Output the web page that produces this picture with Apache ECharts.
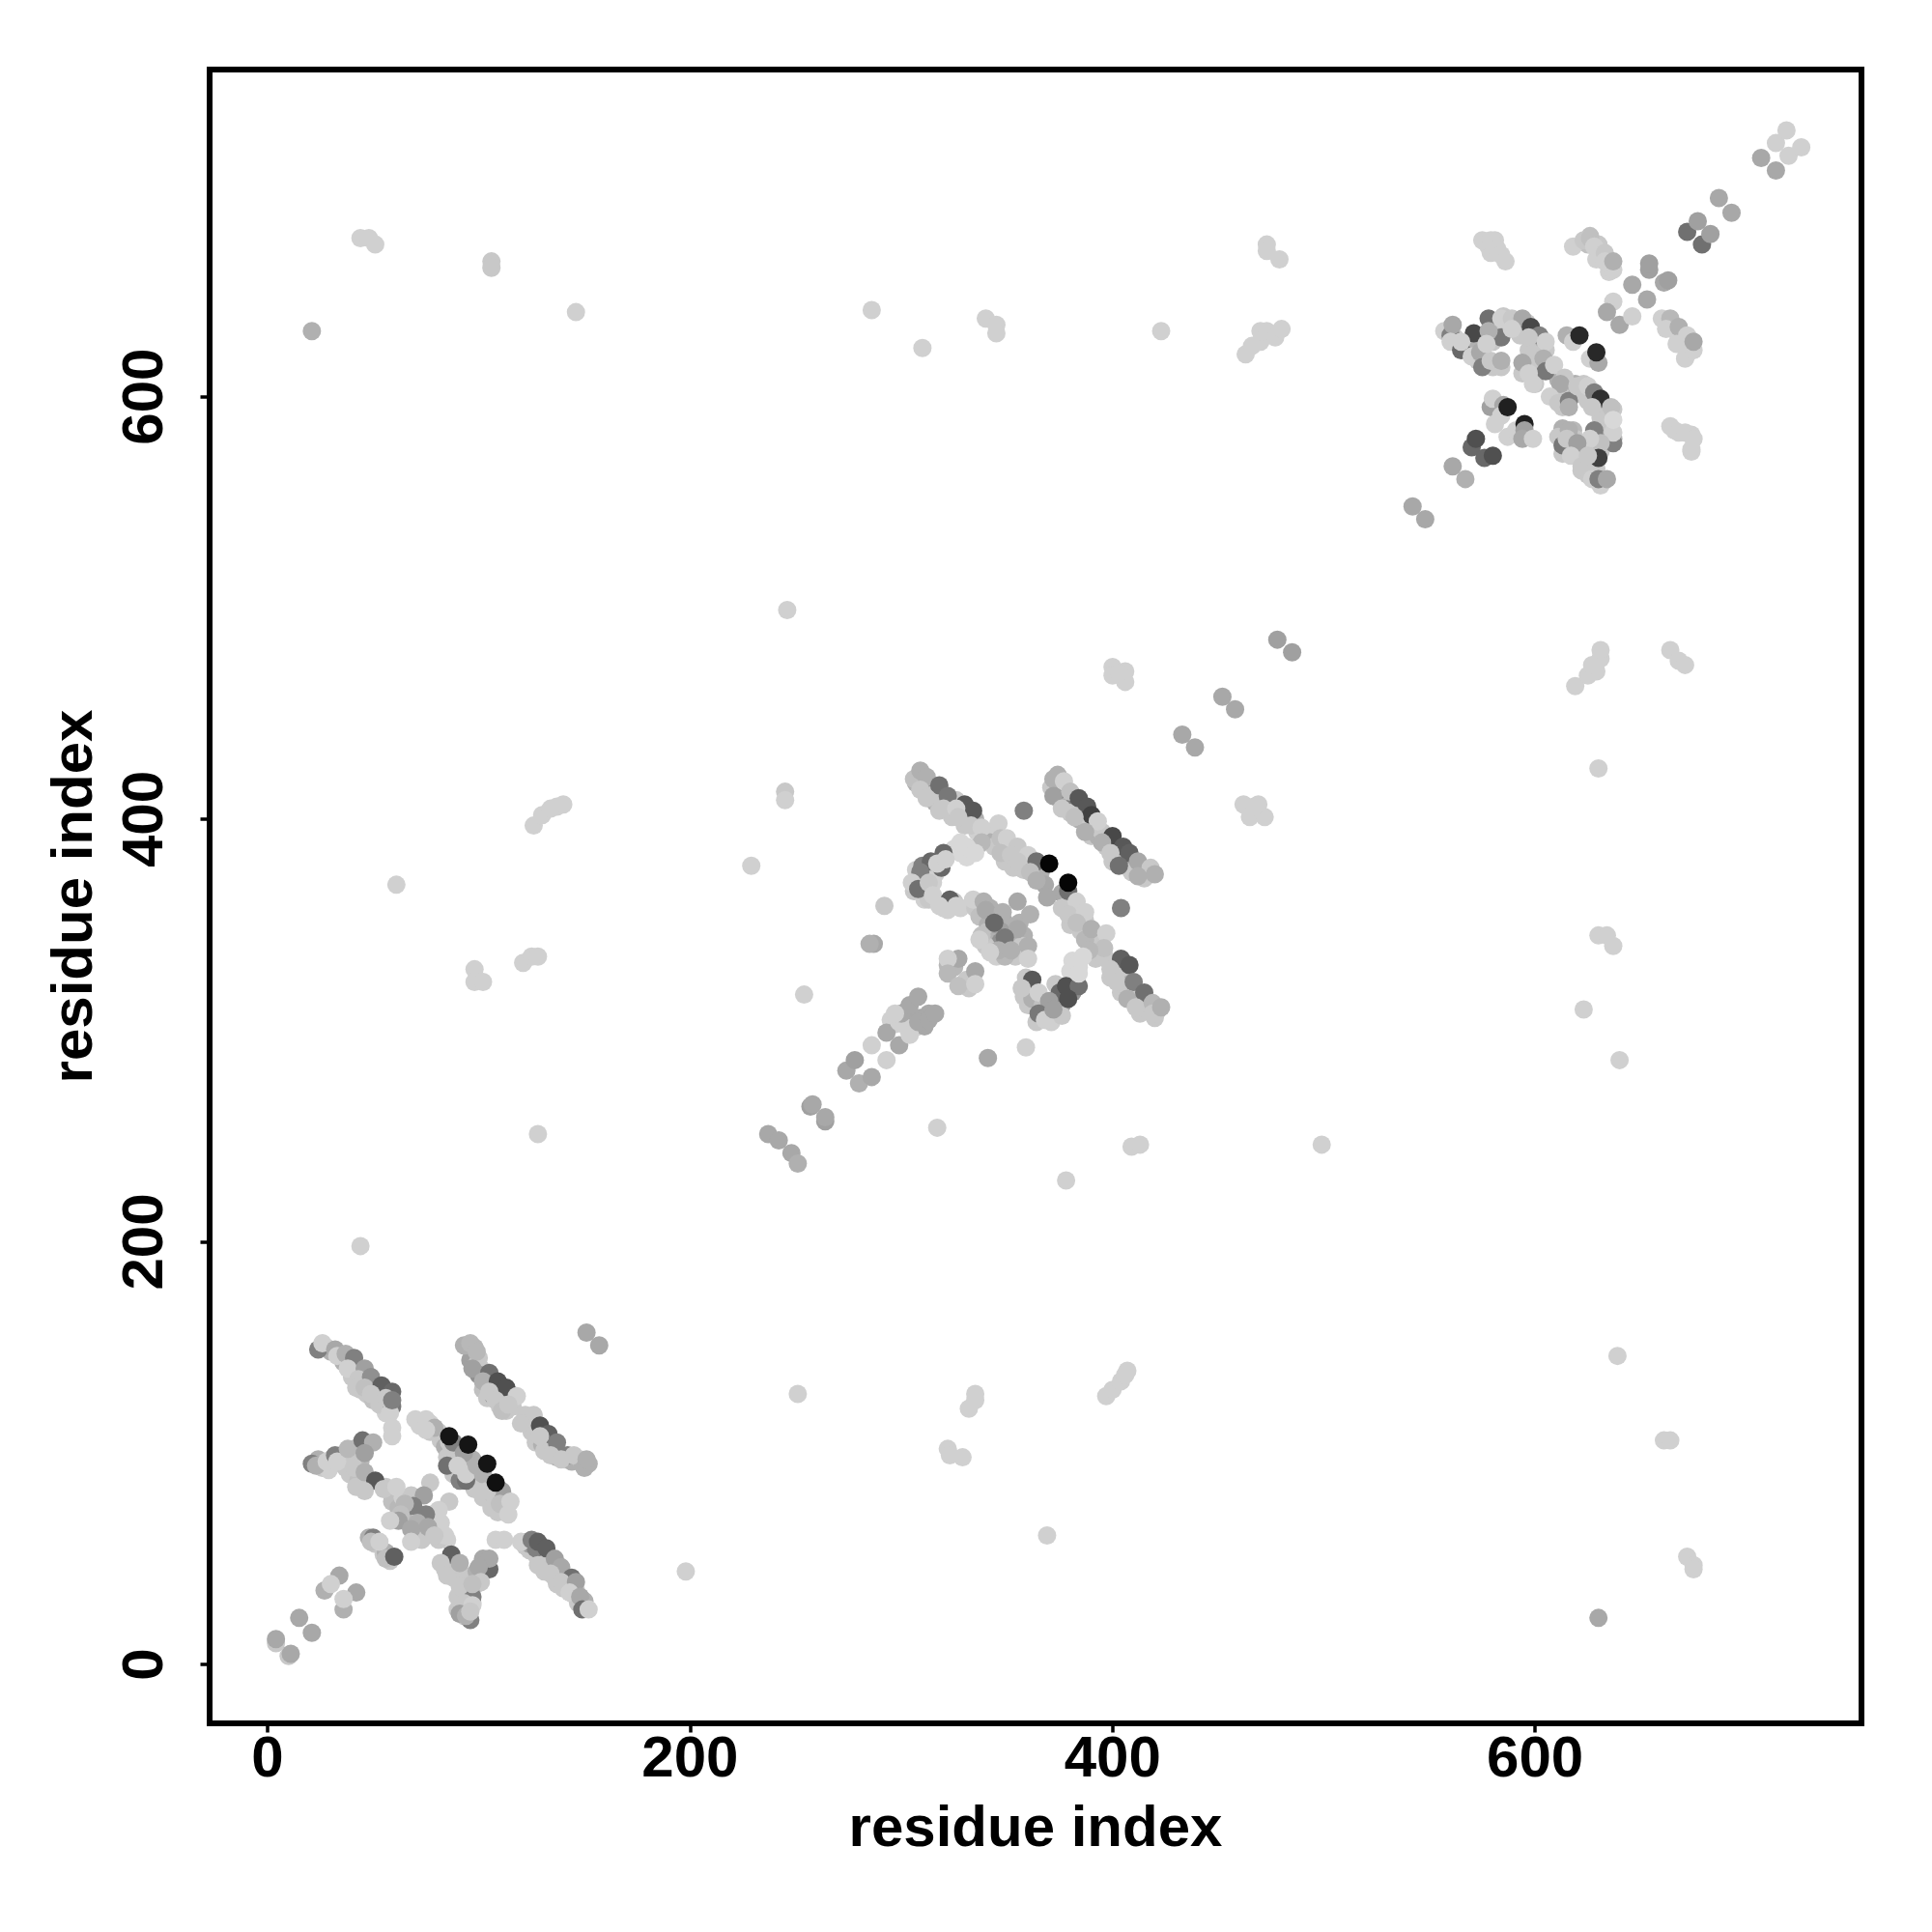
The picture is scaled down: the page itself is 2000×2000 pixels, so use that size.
<!DOCTYPE html>
<html><head><meta charset="utf-8">
<style>html,body{margin:0;padding:0;background:#fff}#c{width:2000px;height:2000px}</style>
<script src="https://cdn.jsdelivr.net/npm/echarts@6/dist/echarts.min.js"></script>
</head><body><div id="c"></div>
<script>
const xTicks=[0,200,400,600], yTicks=[0,200,400,600];
const axisName='residue index';
// each entry: [residue i, residue j, grey level of the contact]
const sparse=[[21,631,0xb0],[44,675,0xd0],[48,675,0xd0],[51,672,0xd0],[106,664,0xc8],[106,661,0xc8],[146,640,0xd0],
[126,397,0xd0],[130,402,0xd0],[134,405,0xd0],[137,406,0xd0],[140,407,0xd0],[61,369,0xd0],[98,329,0xd0],[98,323,0xd0],[102,323,0xd0],
[121,332,0xd0],[125,335,0xd0],[128,335,0xd0],[128,251,0xd0],[44,198,0xd0],[151,157,0xa8],[157,151,0xa8],[198,44,0xd0],[251,128,0xd0],[369,61,0xd0],
[246,499,0xd0],[499,246,0xd0],[335,128,0xd0],[335,125,0xd0],[332,121,0xd0],[322,102,0xd0],[323,99,0xd0],[329,98,0xd0],
[397,127,0xd0],[400,130,0xd0],[404,134,0xd0],[406,137,0xd0],[407,139,0xd0],[478,485,0xa0],[485,479,0xa0],[452,458,0xa8],[458,452,0xa8],[433,440,0xa8],[439,434,0xa8],
[400,472,0xd0],[400,468,0xd0],[406,470,0xd0],[406,465,0xd0],[403,469,0xd0],[462,407,0xd0],[469,407,0xd0],[465,401,0xd0],[472,401,0xd0],[467,406,0xd0],
[630,424,0xd0],[630,345,0xd0],[634,345,0xd0],[637,340,0xd0],[623,310,0xd0],[640,286,0xd0],[639,146,0xd0],[661,106,0xd0],[664,106,0xd0],[672,51,0xd0],[675,47,0xd0],[675,45,0xd0],[630,22,0xa8],
[619,463,0xd0],[625,468,0xd0],[629,470,0xd0],[627,473,0xd0],[631,476,0xd0],[631,480,0xd0],[664,480,0xd0],[668,475,0xd0],[671,473,0xd0],
[286,641,0xd0],[310,623,0xd0],[340,637,0xd0],[345,634,0xd0],[345,630,0xd0],[423,631,0xd0],[463,620,0xd0],[466,624,0xd0],[470,626,0xd0],[470,631,0xd0],[473,631,0xd0],[477,628,0xd0],[480,632,0xd0],
[473,672,0xd0],[473,669,0xd0],[479,665,0xd0]];
const underA=[[28,150,0xc8],[30,148,0xb0],[35,145,0xc8],[36,143,0xb0],[40,142,0xc8],[41,139,0xa0],[44,138,0xc8],[40,136,0xc8],[45,134,0xb0],[48,133,0xc8],[44,130,0xc8],[47,128,0xc8],[51,130,0xb0],[52,126,0xc8],[55,128,0xc8],[50,125,0xc0],[55,122,0xc8],[57,120,0xc8],[58,124,0xc8],[56,119,0xd0],
[95,150,0xb8],[98,150,0xb8],[97,146,0xb0],[100,145,0xc8],[96,144,0xa0],[99,142,0xc8],[101,140,0xc8],[100,137,0x90],[103,136,0xc8],[102,130,0xc0],[106,132,0xc8],[108,130,0xb0],[104,126,0xc8],[107,127,0x90],[110,127,0xc8],[112,125,0xc8],[115,128,0xb0],[116,125,0xc8],[110,122,0xc8],[113,120,0xc8],[116,122,0xc8],[122,115,0xc8],[124,113,0x80],[122,118,0xc8],[125,110,0xc8],[128,110,0xc8],[127,105,0xc8],[130,104,0xb0],[132,106,0xc8],[133,102,0xc8],[136,101,0xb0],[131,101,0xc8],[137,98,0xb0],[141,97,0xc8],[144,96,0xb0],[148,97,0xc8],[149,95,0xb0],[152,95,0xb0],
[72,115,0xd0],[77,114,0xd0],[72,113,0xd0],[77,110,0xc8],[81,110,0xc8],[82,106,0xc8],[84,103,0xb0],[86,105,0xc8],[87,100,0xc8],[90,102,0xb0],[85,98,0xc8],[89,98,0xc8],[92,97,0xc8],[92,92,0xc8],[96,92,0xc8],[97,97,0xb0],[88,90,0xc8],[91,87,0x80],[97,88,0xc8],[100,86,0xb0],[103,87,0xc8],[98,83,0xc8],[102,79,0xc8],[105,84,0xc8],[107,80,0xc0],[108,77,0xc8],[112,79,0xc8],[112,74,0xd0],[106,74,0xc8],[109,72,0xc8],
[24,97,0xb0],[26,93,0xc8],[30,94,0xd0],[30,97,0xd0],[35,95,0xc8],[35,99,0xc8],[37,93,0xc8],[40,97,0xc8],[42,100,0xb8],[43,103,0xb8],[39,100,0xc8],[43,96,0xc8],[29,92,0xd0],[38,97,0xc8],[39,90,0xc8],[43,87,0xc0],[44,96,0xb8],[46,84,0xc8],[41,99,0xc8],[42,84,0xc8],
[56,84,0xc8],[59,77,0xc0],[62,74,0xb8],[64,79,0xd0],[68,80,0xc8],[65,68,0xb8],[70,62,0xa8],[73,68,0xb0],[78,71,0xc8],[82,67,0xd0],[85,59,0xd0],[81,59,0xc8],[73,59,0xc8],
[84,45,0xc8],[88,41,0xc8],[90,32,0xc8],[93,42,0xc8],[99,44,0xb0],[102,50,0xa8],[97,29,0xc8],[93,23,0xc8],[90,26,0xc8],[96,35,0xc8],[99,38,0xc8],
[48,60,0xb0],[51,57,0xc8],[55,52,0xc8],[58,49,0xc8],[56,53,0xb0],
[122,56,0xc8],[124,54,0xc8],[127,52,0xc8],[124,57,0xa0],[130,51,0xc8],[127,55,0x80],[130,47,0xc8],[133,47,0xc8],[131,44,0xc8],[136,46,0xc8],[136,41,0xc8],[137,38,0xc8],[141,42,0xc8],[140,36,0xc8],[145,37,0xc8],[143,38,0xa0],[145,33,0xc8],[147,29,0xc8],[150,30,0xb0],[146,35,0xc8]];
const domainA=[[4,10,0xc8],[4,12,0xa8],[10,4,0xc8],[11,5,0xa8],[15,22,0xa8],[21,15,0xa8],[27,35,0xb0],[34,42,0xa8],[36,26,0xb0],[42,34,0xa8],[30,38,0xd0],[36,31,0xd0],
[24,149,0x80],[26,152,0xd0],[32,149,0xa8],[33,146,0xd0],[37,147,0xb0],[41,145,0x80],[38,140,0xd0],[46,140,0xa0],[43,135,0xc8],[42,131,0xc8],[49,136,0x90],[46,131,0xc0],[54,132,0x60],[49,128,0xc8],[53,123,0xc8],[59,122,0x78],[59,129,0x68],[58,119,0xd0],[56,126,0xc8],[59,125,0x80],
[93,151,0xb0],[96,152,0xb8],[99,148,0xb8],[97,140,0xa0],[105,138,0x70],[102,134,0xb0],[109,134,0x50],[113,131,0x50],[105,129,0xc8],[108,125,0xc8],[118,127,0xd0],[111,120,0xc0],[114,123,0xc8],[126,118,0xc8],[120,114,0xc8],[129,113,0x50],[133,109,0x60],[137,105,0x80],[129,108,0xc8],[134,99,0xc8],[142,99,0x80],[145,99,0xc8],[139,97,0xc8],[150,93,0xb0],[151,97,0xb0],
[70,116,0xd0],[75,116,0xd0],[79,112,0xb0],[75,111,0xd0],[88,105,0x80],[93,100,0xa0],[85,94,0x70],[90,94,0xd0],[94,87,0x70],[94,90,0xd0],[99,94,0xb0],[102,90,0xb0],[111,82,0xa0],[104,82,0xc8],[110,76,0xc0],[115,77,0xd0],[114,71,0xd0],[86,108,0x15],[95,104,0x15],[104,95,0x15],[108,86,0x10],
[21,95,0x80],[23,94,0xb0],[28,96,0xd0],[32,99,0x80],[33,96,0xd0],[38,102,0xb8],[45,106,0x70],[50,105,0xb0],[46,100,0xa0],[41,93,0xc8],[46,91,0xb0],[51,87,0x58],[46,82,0xc8],[55,83,0xc8],[61,84,0xd0],
[59,112,0xd0],[59,108,0xd0],[77,86,0xc8],[74,80,0xa0],[69,75,0x80],[65,76,0xb8],[63,71,0xc0],[62,68,0xa0],[58,68,0xd0],[86,77,0xc8],[81,73,0xd0],[75,71,0x80],[71,67,0xb0],[68,64,0xa8],[68,58,0xd0],[76,65,0xa8],[84,61,0xd0],[79,61,0xc8],
[50,60,0x80],[49,58,0xc0],[53,58,0xd0],[56,50,0xc0],[60,51,0x60],[108,59,0xd0],[112,59,0xd0],
[120,58,0xd0],[125,59,0x80],[128,58,0x60],[132,55,0x60],[128,47,0xc8],[136,50,0xa0],[139,46,0xa8],[134,43,0xc8],[144,41,0x70],[139,39,0xc8],[146,39,0xa0],[143,34,0xd0],[148,32,0xa8],[149,26,0x70],[152,26,0xd0],
[87,52,0x60],[82,48,0xc8],[85,42,0xc8],[91,48,0xb0],[105,45,0x68],[105,50,0xa8],[100,46,0xa8],[101,39,0xc8],[97,32,0x80],[91,37,0xc8],[97,38,0xc0],[93,29,0xc8],[97,28,0xd0],[91,24,0xa0],[96,21,0x80],[94,23,0xb0],[96,25,0xc8]];
const underB=[[307,417,0xb0],[310,418,0xc8],[313,416,0xb0],[311,413,0xc8],[314,412,0x90],[316,412,0xc8],[316,408,0xb0],[319,410,0xc8],[322,407,0xc8],[318,404,0xc8],[323,404,0xb0],[326,409,0xc8],[329,402,0x90],[331,401,0xc8],[324,401,0xc8],[330,397,0xc8],[335,400,0xb0],[336,394,0xd0],
[342,394,0xd0],[342,389,0xb0],[344,387,0xc8],[350,386,0xc8],[349,380,0xc8],[354,384,0xb8],[358,380,0xc8],[353,377,0xc8],[358,376,0xc8],[362,378,0x90],[366,375,0xb0],[368,369,0xa8],[376,365,0xa8],[380,362,0xc8],[382,357,0xb0],[376,358,0xc8],[380,350,0xc8],[385,347,0xc8],[387,352,0xc8],[392,342,0xc8],[387,343,0xb8],[392,334,0xc8],[394,337,0xc8],
[374,415,0xc8],[371,415,0xc8],[376,412,0xa0],[375,409,0xc8],[379,409,0x80],[378,406,0xb0],[382,407,0x80],[385,405,0xb0],[380,403,0xc8],[384,400,0xb0],[386,401,0xc8],[389,398,0xc8],[392,395,0xc8],[390,392,0xc8],[393,392,0xb0],[395,394,0xc8],[397,387,0xc8],[401,387,0x90],[403,383,0xc8],[400,380,0xc8],[406,379,0xc8],[405,382,0xb0],[409,379,0xb0],[409,375,0xc8],[413,377,0xc8],[416,375,0xc8],[415,372,0xc8],[418,374,0xc8],
[397,334,0xc8],[400,332,0xc8],[399,325,0xc8],[403,328,0xb0],[405,328,0xc8],[405,320,0xc8],[408,322,0xb0],[404,318,0xc8],[409,317,0xc8],[411,315,0xb0],[413,316,0xc8],[414,313,0xc8],[416,311,0xb0],[413,308,0xc8],[417,309,0xc8],[421,309,0xc8],[420,306,0xc8],
[307,376,0xd0],[309,371,0xb0],[310,378,0x80],[306,366,0xc8],[310,365,0xc8],[311,362,0xd0],[315,370,0xd0],[316,374,0xd0],[313,362,0xc8],[320,358,0xd0],[322,357,0xd0],[325,361,0xc8],[328,384,0xd8],[325,386,0xd8],[331,382,0xd8],[328,389,0xd8],[337,388,0xd8],[328,358,0xd0],
[335,358,0xc8],[337,354,0xc0],[342,358,0xb0],[345,354,0xb0],[341,350,0xb0],[341,347,0xc0],[349,351,0xa8],[352,349,0xb0],[347,347,0xa0],[343,342,0xb0],[347,342,0x90],[351,342,0xb0],[355,344,0xb0],[354,335,0xc8],[358,345,0xb0],[357,340,0xc8],[340,340,0xc8],[345,335,0xd0],[349,335,0xb8],[356,351,0xb0],
[359,325,0xc8],[361,318,0xc8],[358,316,0xc8],[360,312,0xc8],[362,315,0xb0],[367,312,0xc0],[364,304,0xc8],[368,309,0xb0],[371,304,0xd0],[372,314,0x90],[376,312,0xa0],[376,307,0xc8],[380,320,0xb0],[381,318,0x90],[373,322,0xc8],[384,330,0xd8],[381,333,0xd8],[380,328,0xd8],
[295,305,0xd0],[297,303,0xd0],[302,309,0xa8],[305,307,0xa8],[303,301,0xd0],[306,301,0xd0],[309,306,0xa8],[311,302,0xa8],[313,308,0xa8],[322,331,0xb8],[325,330,0xb8],[329,322,0xc8],[331,324,0xc8],[332,320,0xc8]];
const domainB=[[245,413,0xc8],[245,409,0xd0],[229,378,0xd0],[292,359,0xc8],[287,341,0xa8],[285,341,0xb0],[254,317,0xd0],
[237,251,0xa8],[242,248,0xa8],[248,242,0xa8],[251,237,0xb0],[257,264,0xa0],[258,265,0xa8],[264,257,0xa0],[264,259,0xa8],[274,281,0xa8],[278,286,0xa0],[280,275,0xb0],[286,278,0xa8],
[293,286,0xd0],[286,293,0xd0],[293,299,0xa8],[299,293,0xa8],[299,304,0xd0],[304,298,0xd0],[300,308,0xa8],[304,312,0xa8],[308,316,0xa8],[297,308,0xd0],[308,304,0xa8],[313,305,0xa8],[316,308,0xa8],
[341,287,0xa8],[359,292,0xd0],[317,254,0xd0],[409,245,0xd0],[413,246,0xd0],[378,229,0xd0],[404,358,0x80],[358,404,0x80],
[306,419,0xc0],[309,423,0xb0],[312,420,0xb0],[309,414,0xc8],[318,416,0x70],[322,411,0x78],[312,410,0xc8],[320,405,0xc8],[330,407,0x58],[334,404,0x58],[326,405,0xd0],[327,401,0xc8],[333,397,0xc8],
[338,396,0xd0],[346,398,0xd0],[338,389,0xb8],[347,391,0xc0],[350,391,0xd0],[355,387,0xc8],[347,384,0xc0],[352,383,0xc8],[360,383,0xd0],[355,380,0xc8],[364,380,0x70],[361,375,0xc0],[364,371,0xb0],[379,366,0x70],[369,363,0xa8],[383,361,0xd0],[379,355,0xc8],[387,356,0xd0],[383,351,0xc0],[390,348,0xb0],[397,346,0xd0],[396,339,0xc0],[389,338,0xb8],[370,379,0x05],[379,370,0x05],
[372,419,0xb0],[374,421,0xb0],[377,418,0xd0],[372,411,0xa0],[380,413,0xc0],[384,410,0x58],[376,405,0xc8],[388,406,0x58],[390,402,0x40],[382,401,0xc0],[393,399,0xd0],[387,394,0xb0],[400,392,0x48],[395,389,0xb0],[405,387,0x58],[408,384,0x60],[399,384,0xc8],[403,378,0x70],[412,380,0xa8],[418,377,0xc8],[412,373,0xb0],[420,374,0xb0],
[404,334,0x60],[408,331,0x58],[399,329,0xc8],[402,323,0xc8],[410,323,0x80],[407,315,0xb0],[415,318,0x70],[411,311,0xc8],[419,313,0xb8],[419,308,0xc8],[423,311,0xb0],
[320,384,0x68],[314,380,0x68],[319,377,0x68],[309,375,0x80],[317,379,0xd0],[321,381,0xd0],[305,370,0xd0],[308,367,0x70],[313,370,0xc8],[315,364,0xd0],[323,362,0x60],[318,359,0xd0],[326,359,0xd0],[331,387,0xd8],[335,384,0xd8],
[334,362,0xd0],[339,361,0xb0],[340,357,0xa8],[348,356,0xb0],[355,361,0xa8],[361,355,0xb0],[344,351,0x68],[338,345,0xc0],[337,343,0xd0],[355,348,0xa8],[349,344,0x78],[346,338,0xb0],[342,337,0xd0],[352,338,0xb0],[360,340,0xb0],[360,334,0xd0],
[362,324,0x58],[357,320,0xc8],[365,318,0xd0],[375,318,0x68],[378,321,0x50],[384,321,0x70],[379,315,0x50],[370,314,0xa0],[365,308,0x78],[368,305,0xd0],[372,310,0xa0],[384,332,0xd8],[386,335,0xd8],[384,327,0xd8],
[327,334,0xa8],[322,334,0xd0],[322,327,0xb8],[335,328,0xa8],[327,321,0xc0],[335,322,0xd0]];
const underC=[[562,628,0xc8],[567,623,0xc8],[570,626,0xc8],[573,623,0xb0],[573,617,0xc8],[576,617,0xc8],[580,614,0xc8],[584,614,0xc8],[577,628,0xc8],[580,634,0xc8],[580,626,0xc8],[586,634,0xc8],[585,638,0xc8],[592,635,0xb0],[596,635,0xc8],[593,629,0xc8],[599,626,0xc8],[602,623,0xb0],[597,622,0xc8],[605,622,0xc8],[599,616,0xc8],[604,614,0xc8],[608,612,0xb0],[594,611,0xc8],[599,609,0xc8],[600,606,0xc8],
[611,608,0xb0],[615,605,0xc8],[619,606,0xb0],[623,606,0xc8],[610,600,0xc8],[614,598,0xc8],[613,595,0xc8],[622,601,0xc8],[625,598,0xc8],[629,595,0xc8],[631,590,0xc8],[637,594,0xc8],[632,586,0xc8],[637,580,0xb0],[632,580,0xc8],[629,580,0xa0],[626,575,0xc8],[631,574,0xc8],[613,585,0xb0],[618,584,0xb8],[611,581,0xc8],[619,580,0xc8],[613,573,0xc8],[620,572,0xb0],[623,578,0xc8],[622,565,0xc8],[625,563,0xc8],[626,566,0xc8],[629,566,0xc8],
[578,671,0xd0],[581,674,0xd0],[579,668,0xd0],[629,665,0xd0],[630,672,0xc8],[625,672,0xc0],[635,659,0xd0],[626,676,0xc0],[665,632,0xd0],[668,627,0xd0],[671,623,0xd0],[672,620,0xd0],[666,584,0xd0],[674,574,0xd0],[674,582,0xd0]];
const domainC=[[542,548,0xa8],[548,542,0xa8],[561,567,0xa8],[567,561,0xb0],[570,576,0x68],[572,580,0x50],[576,571,0x68],[580,572,0x50],
[579,595,0xa0],[580,599,0xd0],[585,596,0xa8],[584,591,0xd0],[581,587,0xd0],[587,595,0x20],[587,581,0xd0],[591,584,0xd0],[595,587,0x20],[595,584,0xa0],[594,580,0xa8],[599,580,0xd0],
[615,629,0xb0],[618,626,0xd0],[621,629,0x28],[626,618,0xd0],[630,616,0xa8],[629,621,0x28],
[557,631,0xd0],[560,629,0x80],[561,634,0xa8],[560,626,0xd0],[571,630,0x48],[565,622,0x68],[565,626,0xd0],[570,619,0xd0],[574,621,0xa8],[575,614,0x80],[579,617,0xc8],[584,617,0xb0],[578,637,0x70],[584,628,0x78],[578,631,0xb0],[577,625,0xd0],[584,637,0xd0],[589,637,0xc8],[594,637,0xa8],[598,633,0x48],[589,632,0xd0],[602,629,0x80],[597,628,0xc8],[605,626,0xd0],[599,620,0xc8],[604,618,0xb0],[605,612,0x78],[609,615,0xd0],[594,616,0xa8],[597,611,0xd0],[599,606,0xd0],
[614,609,0xc8],[612,606,0xa8],[607,600,0xd0],[611,597,0xc8],[616,598,0x80],[616,595,0xb0],[620,605,0xc8],[625,605,0xd0],[628,602,0x80],[631,599,0x30],[627,595,0xc8],[636,595,0xc0],[637,578,0x80],[637,583,0xd0],[637,589,0xd8],[628,584,0x80],[631,578,0xc0],[630,571,0x40],[626,580,0xd0],[613,577,0x78],[616,584,0xb0],[615,580,0xc8],[620,578,0xa0],[617,572,0xd0],[622,567,0xc8],[625,572,0xc8],[627,561,0xd0],[631,558,0xd0],[630,561,0x80],[634,561,0xa8],
[575,674,0xd0],[579,674,0xd0],[582,670,0xd0],[584,667,0xd0],[586,664,0xd0],[618,671,0xd0],[623,674,0xc8],[626,675,0xc0],[628,671,0xd0],[633,668,0xc8],[637,660,0xd0],[633,664,0xd0],[637,664,0xb0],
[654,660,0xa0],[654,663,0xa0],[661,654,0xa8],[663,655,0xa0],[646,653,0xa8],[653,646,0xa8],[637,645,0xd0],[634,640,0xa8],[640,634,0xa8],[646,638,0xd0],
[660,637,0xd0],[664,637,0xb8],[662,632,0xd0],[668,633,0xb0],[667,625,0xd0],[672,629,0xd0],[671,618,0xd0],[675,622,0xd0],[675,626,0xa8],
[664,586,0xd0],[668,583,0xd0],[671,583,0xd0],[675,580,0xd0],[674,575,0xd0],
[672,678,0x70],[677,683,0xa0],[679,672,0x70],[683,677,0xa0],[687,694,0xa8],[693,687,0xa8],[707,713,0xa8],[714,707,0xa8],[714,720,0xd0],[719,726,0xd0],[720,714,0xd0],[726,718,0xd0]];
const groups=[sparse,underA,domainA,underB,domainB,underC,domainC];

const labelFont={fontFamily:'Liberation Sans',fontWeight:'bold',fontSize:60,color:'#000'};
const baseAxis={type:'value',name:axisName,nameLocation:'middle',nameTextStyle:labelFont,
  splitLine:{show:false},axisLine:{show:false,onZero:false}};
const tick={show:true,length:9.5,lineStyle:{color:'#000',width:3.5}};
const chart=echarts.init(document.getElementById('c'),null,{renderer:'canvas'});
chart.setOption({animation:false,backgroundColor:'#fff',
  grid:{left:217,right:73,top:72,bottom:216,show:true,borderColor:'#000',borderWidth:6,backgroundColor:'transparent',containLabel:false},
  xAxis:Object.assign({},baseAxis,{min:-27.4,max:754.5,nameGap:80,
    axisTick:Object.assign({},tick,{customValues:xTicks}),
    axisLabel:Object.assign({customValues:xTicks,margin:8},labelFont)}),
  yAxis:Object.assign({},baseAxis,{min:-27.9,max:754.8,nameGap:109,
    axisTick:Object.assign({},tick,{customValues:yTicks}),
    axisLabel:Object.assign({customValues:yTicks,rotate:90,margin:36},labelFont)}),
  series:groups.map(g=>({type:'scatter',data:g,symbol:'circle',symbolSize:19,silent:true,clip:true,
    encode:{x:0,y:1},
    itemStyle:{opacity:1,color:p=>{const v=p.value[2];return 'rgb('+v+','+v+','+v+')';}}}))
});
</script></body></html>
